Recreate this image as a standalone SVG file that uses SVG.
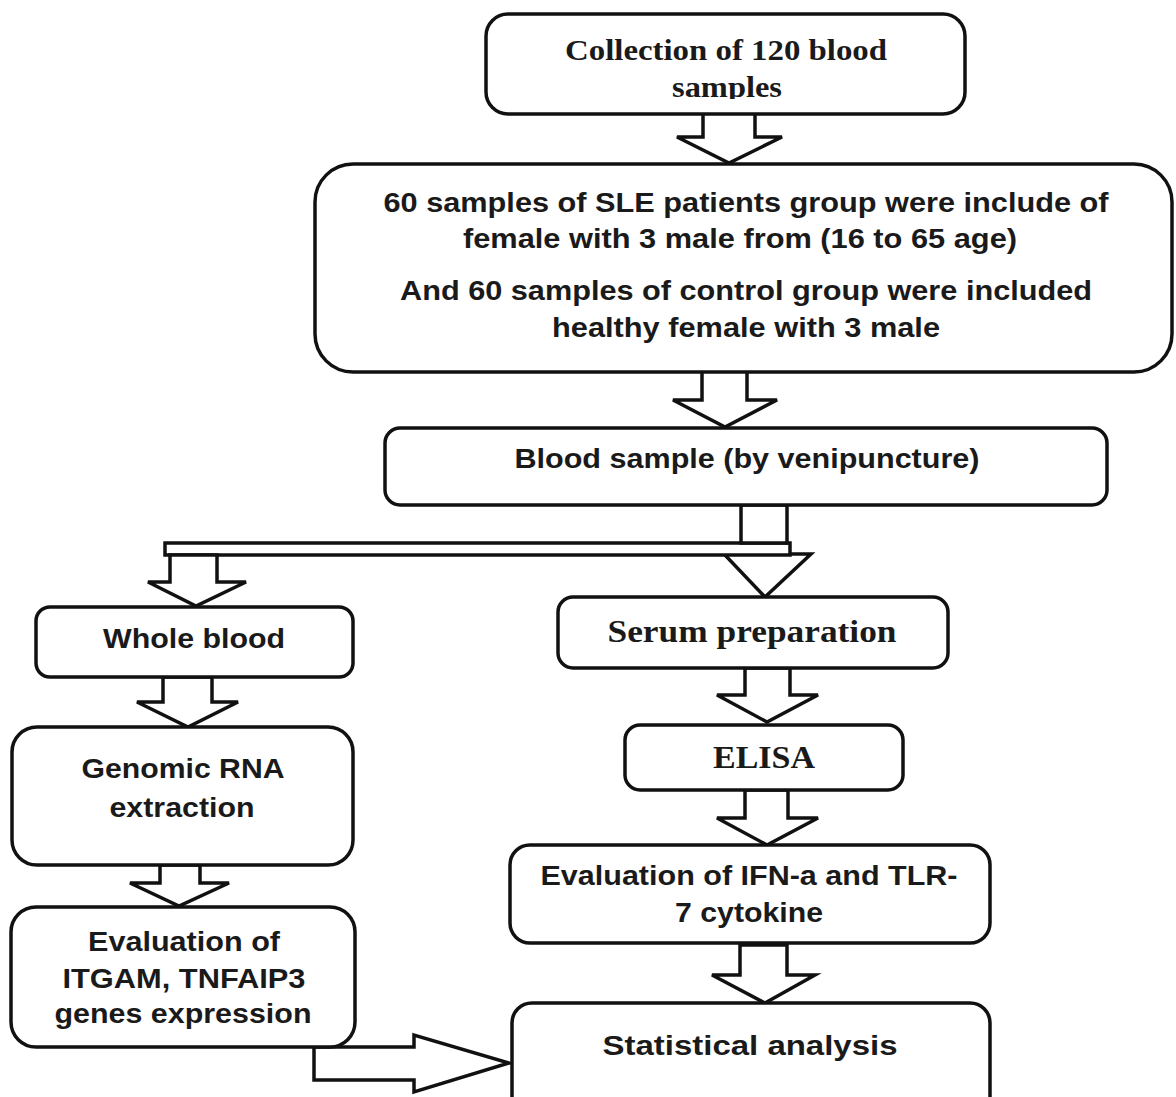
<svg xmlns="http://www.w3.org/2000/svg" width="1176" height="1097" viewBox="0 0 1176 1097">
<style>
.box{fill:#fff;stroke:#111;stroke-width:3.5}
.arr{fill:#fff;stroke:#111;stroke-width:3.5;stroke-linejoin:miter}
.sans{font-family:"Liberation Sans",Arial,sans-serif;font-weight:bold;font-size:28px;fill:#1a1a1a;text-anchor:middle}
.serif{font-family:"Liberation Serif","Times New Roman",serif;font-weight:bold;fill:#1a1a1a;text-anchor:middle}
</style>
<defs>
<clipPath id="clip1"><rect x="485" y="13" width="480" height="86"/></clipPath>
</defs>
<rect width="1176" height="1097" fill="#fff"/>
<g id="connectors">
<polygon class="arr" points="703,113 755,113 755,137 782,137 729,163 677,137 703,137"/>
<polygon class="arr" points="702,371 747,371 747,400 777,400 725,427 673,400 702,400"/>
<polygon class="arr" points="724,554 811,554 765,597"/>
<rect class="arr" x="165" y="543" width="625" height="12"/>
<rect class="arr" x="741" y="505" width="46" height="38"/>
<polygon class="arr" points="170,555 217,555 217,582 246,582 196,606 148,582 170,582"/>
<polygon class="arr" points="163,677 212,677 212,702 238,702 188,727 137,702 163,702"/>
<polygon class="arr" points="160,865 200,865 200,883 229,883 179,906 130,883 160,883"/>
<polygon class="arr" points="314,1047 414,1047 414,1035 509,1063 414,1092 414,1080 314,1080"/>
<polygon class="arr" points="745,668 790,668 790,695 818,695 767,722 717,695 745,695"/>
<polygon class="arr" points="745,790 788,790 788,818 818,818 767,845 717,818 745,818"/>
<polygon class="arr" points="740,945 787,945 787,975 815,975 765,1003 712,975 740,975"/>
</g>
<g id="n1">
<rect class="box" x="486" y="14" width="479" height="100" rx="22"/>
<text class="serif" font-size="30" x="726" y="60" textLength="322" lengthAdjust="spacingAndGlyphs">Collection of 120 blood</text>
<text class="serif" font-size="30" x="727" y="97" textLength="110" lengthAdjust="spacingAndGlyphs" clip-path="url(#clip1)">samples</text>
</g>
<g id="n2">
<rect class="box" x="315" y="164" width="857" height="208" rx="38"/>
<text class="sans" x="746" y="212" textLength="725" lengthAdjust="spacingAndGlyphs">60 samples of SLE patients group were include of</text>
<text class="sans" x="740" y="248" textLength="554" lengthAdjust="spacingAndGlyphs">female with 3 male from (16 to 65 age)</text>
<text class="sans" x="746" y="300" textLength="692" lengthAdjust="spacingAndGlyphs">And 60 samples of control group were included</text>
<text class="sans" x="746" y="337" textLength="388" lengthAdjust="spacingAndGlyphs">healthy female with 3 male</text>
</g>
<g id="n3">
<rect class="box" x="385" y="428" width="722" height="77" rx="15"/>
<text class="sans" x="747" y="468" textLength="465" lengthAdjust="spacingAndGlyphs">Blood sample (by venipuncture)</text>
</g>
<g id="n4">
<rect class="box" x="36" y="607" width="317" height="70" rx="14"/>
<text class="sans" x="194" y="648" textLength="182" lengthAdjust="spacingAndGlyphs">Whole blood</text>
</g>
<g id="n5">
<rect class="box" x="12" y="727" width="341" height="138" rx="25"/>
<text class="sans" x="183" y="778" textLength="203" lengthAdjust="spacingAndGlyphs">Genomic RNA</text>
<text class="sans" x="182" y="817" textLength="145" lengthAdjust="spacingAndGlyphs">extraction</text>
</g>
<g id="n6">
<rect class="box" x="11" y="907" width="344" height="140" rx="25"/>
<text class="sans" x="184" y="951" textLength="192" lengthAdjust="spacingAndGlyphs">Evaluation of</text>
<text class="sans" x="184" y="988" textLength="243" lengthAdjust="spacingAndGlyphs">ITGAM, TNFAIP3</text>
<text class="sans" x="183" y="1023" textLength="257" lengthAdjust="spacingAndGlyphs">genes expression</text>
</g>
<g id="n7">
<rect class="box" x="558" y="597" width="390" height="71" rx="15"/>
<text class="serif" font-size="32" x="752" y="642" textLength="289" lengthAdjust="spacingAndGlyphs">Serum  preparation</text>
</g>
<g id="n8">
<rect class="box" x="625" y="725" width="278" height="65" rx="15"/>
<text class="serif" font-size="32" x="764" y="768" textLength="102" lengthAdjust="spacingAndGlyphs">ELISA</text>
</g>
<g id="n9">
<rect class="box" x="510" y="845" width="480" height="98" rx="20"/>
<text class="sans" x="749" y="885" textLength="417" lengthAdjust="spacingAndGlyphs">Evaluation of IFN-a and TLR-</text>
<text class="sans" x="749" y="922" textLength="148" lengthAdjust="spacingAndGlyphs">7 cytokine</text>
</g>
<g id="n10">
<rect class="box" x="512" y="1003" width="478" height="115" rx="20"/>
<text class="sans" x="750" y="1055" textLength="295" lengthAdjust="spacingAndGlyphs">Statistical analysis</text>
</g>
</svg>
